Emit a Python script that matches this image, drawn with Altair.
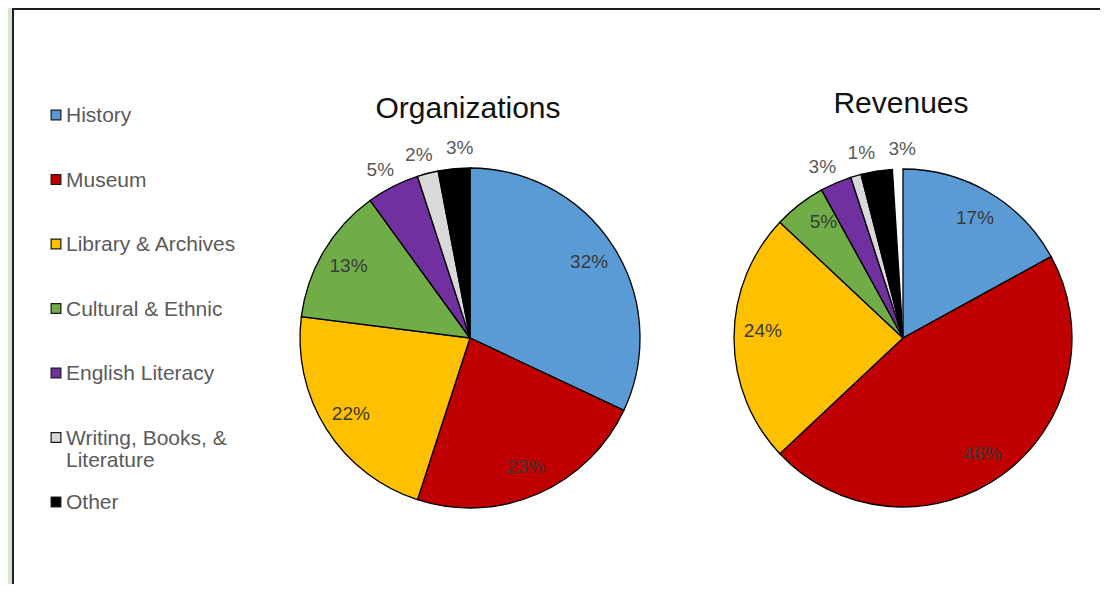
import altair as alt
import pandas as pd

categories = ["History", "Museum", "Library & Archives", "Cultural & Ethnic",
              "English Literacy", "Writing, Books, &\nLiterature", "Other"]
colors = ["#5b9bd5", "#c00000", "#ffc000", "#70ad47", "#7030a0", "#d9d9d9", "#000000"]
org_values = [32, 23, 22, 13, 5, 2, 3]
rev_values = [17, 46, 24, 5, 3, 1, 3]
org_label_side = ["in", "in", "in", "in", "out", "out", "out"]
rev_label_side = ["in", "in", "in", "in", "out", "out", "out"]

rows = []
for chart_name, vals, sides in [("Organizations", org_values, org_label_side),
                                ("Revenues", rev_values, rev_label_side)]:
    for i, (c, v, s) in enumerate(zip(categories, vals, sides)):
        rows.append({"chart": chart_name, "category": c, "value": v,
                     "idx": i, "side": s, "label": f"{v}%"})
df = pd.DataFrame(rows)
legend_df = pd.DataFrame({"category": categories, "idx": list(range(len(categories)))})

W, H = 1092, 576
color_scale = alt.Scale(domain=categories, range=colors)
FONT = "Liberation Sans"
GAP = 12.5 * 3.141592653589793 / 180  # min angular spacing of outside labels

panel = alt.Chart(pd.DataFrame({"a": [0]})).mark_rect(
    fill="white", stroke="#1e1e1e", strokeWidth=2
).encode(x=alt.value(5), x2=alt.value(1300), y=alt.value(1), y2=alt.value(800))

def pie(name, cx, cy, r, title_y):
    base = alt.Chart(df).transform_filter(alt.datum.chart == name)
    arcs = base.mark_arc(radius=r, stroke="#000000", strokeWidth=1.3).encode(
        theta=alt.Theta("value:Q", stack=True),
        color=alt.Color("category:N", scale=color_scale, legend=None),
        order=alt.Order("idx:Q"),
        x=alt.value(cx), y=alt.value(cy),
    )
    labels = base.transform_calculate(
        isout="datum.side == 'out' ? 1 : 0"
    ).transform_window(
        cum="sum(value)", kout="sum(isout)", sort=[alt.SortField("idx")],
        frame=[None, 0]
    ).transform_joinaggregate(
        total="sum(value)", nout="sum(isout)"
    ).transform_calculate(
        mid="(datum.cum - datum.value / 2) / datum.total * 2 * PI",
    ).transform_calculate(
        mid_out="datum.side == 'out' ? datum.mid : null"
    ).transform_joinaggregate(
        mean_out="mean(mid_out)"
    ).transform_calculate(
        ang=f"datum.side == 'out' ? datum.mean_out + (datum.kout - 1 - (datum.nout - 1) / 2) * {GAP} : datum.mid",
        lr=f"datum.side == 'in' ? {r * 0.83} : {r * 1.12}"
    ).mark_text(font=FONT, fontSize=19, baseline="middle", align="center").encode(
        theta=alt.Theta("ang:Q", scale=None, stack=None),
        radius=alt.Radius("lr:Q", scale=None),
        text="label:N",
        color=alt.condition(alt.datum.side == "in", alt.value("#3a3a3a"), alt.value("#595959")),
        x=alt.value(cx), y=alt.value(cy),
    )
    title = alt.Chart(pd.DataFrame({"t": [name]})).mark_text(
        font=FONT, fontSize=30, color="#111111", align="center", baseline="alphabetic"
    ).encode(text="t:N", x=alt.value(cx - 2), y=alt.value(title_y))
    return arcs + labels + title

pie1 = pie("Organizations", 462, 330, 170, 110)
pie2 = pie("Revenues", 895, 330, 169, 105)

ypos = alt.Y("idx:Q", scale=alt.Scale(domain=[0, 6], range=[107, 494]), axis=None)
leg_sq = alt.Chart(legend_df).mark_square(size=95, stroke="#1a1a1a", strokeWidth=1.2, opacity=1).encode(
    x=alt.value(48), y=ypos,
    color=alt.Color("category:N", scale=color_scale, legend=None),
)
leg_txt = alt.Chart(legend_df).mark_text(
    font=FONT, fontSize=21, align="left", baseline="alphabetic", dy=7,
    lineBreak="\n", lineHeight=22, color="#5a5a5a"
).encode(x=alt.value(58), y=ypos, text="category:N")

chart = alt.layer(panel, pie1, pie2, leg_sq, leg_txt).properties(
    width=W, height=H, background="#d5e3cf",
    autosize=alt.AutoSizeParams(type="none"), padding=0
).configure_view(strokeWidth=0)

chart.save("out.html", embed_options={"renderer": "svg", "actions": False})
